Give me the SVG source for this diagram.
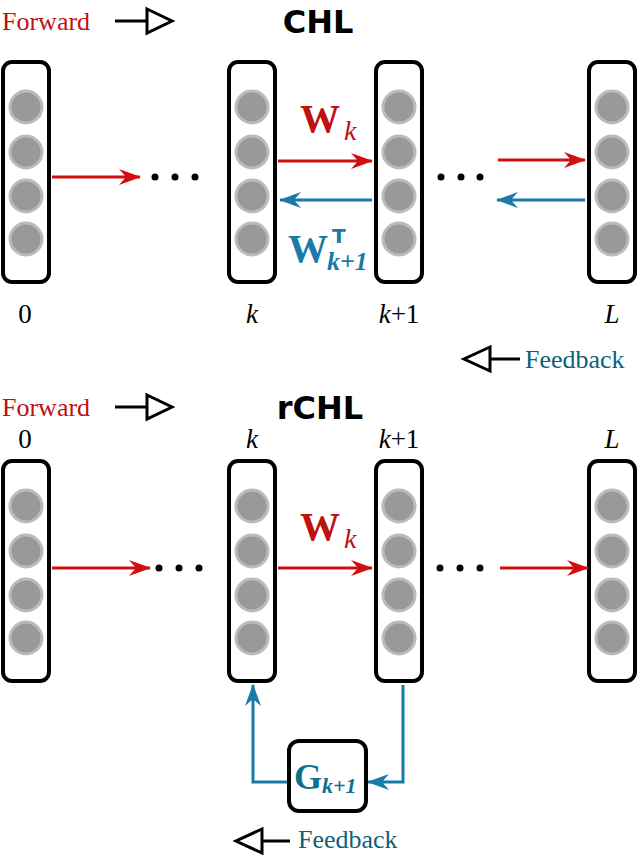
<svg xmlns="http://www.w3.org/2000/svg" width="640" height="863" viewBox="0 0 640 863">
<style>
.col{fill:#fff;stroke:#000;stroke-width:4}
.n{fill:#999;stroke:#bbb;stroke-width:3}
.r{stroke:#d01010;stroke-width:3;fill:none}
.b{stroke:#1a7aa8;stroke-width:3;fill:none}
.serif{font-family:"Liberation Serif",serif}
.sans{font-family:"DejaVu Sans",sans-serif;font-weight:bold}
.dot{fill:#000}
</style>
<defs>
<marker id="ar" markerWidth="22" markerHeight="16" refX="21" refY="8" orient="auto" markerUnits="userSpaceOnUse" viewBox="0 0 22 16"><path d="M0,0 L22,8 L0,16 L7,8Z" fill="#d01010"/></marker>
<marker id="ab" markerWidth="22" markerHeight="16" refX="21" refY="8" orient="auto" markerUnits="userSpaceOnUse" viewBox="0 0 22 16"><path d="M0,0 L22,8 L0,16 L7,8Z" fill="#1a7aa8"/></marker>
<g id="colTpl"><rect class="col" x="-23" y="0" width="46" height="220" rx="9"/><circle class="n" cx="0" cy="45" r="16"/><circle class="n" cx="0" cy="90" r="16"/><circle class="n" cx="0" cy="134" r="16"/><circle class="n" cx="0" cy="177" r="16"/></g>
</defs>
<text class="serif" x="2" y="30" font-size="26" fill="#c01010">Forward</text>
<path d="M115,21 H147 M147,9 L172,21 L147,33Z" stroke="#000" stroke-width="3" fill="none"/>
<text class="sans" x="318" y="33" font-size="32" text-anchor="middle">CHL</text>
<g id="top-col0"><use href="#colTpl" x="26" y="62"/></g>
<g id="top-colk"><use href="#colTpl" x="252" y="62"/></g>
<g id="top-colk1"><use href="#colTpl" x="399" y="62"/></g>
<g id="top-colL"><use href="#colTpl" x="612" y="62"/></g>
<g id="top-connectors">
<line class="r" x1="52" y1="177" x2="140" y2="177" marker-end="url(#ar)"/>
<line class="r" x1="278" y1="161" x2="372" y2="161" marker-end="url(#ar)"/>
<line class="b" x1="372" y1="200" x2="280" y2="200" marker-end="url(#ab)"/>
<line class="r" x1="498" y1="160" x2="585" y2="160" marker-end="url(#ar)"/>
<line class="b" x1="585" y1="200" x2="497" y2="200" marker-end="url(#ab)"/>
</g>
<g class="dot"><circle cx="155" cy="177" r="3.5"/><circle cx="175" cy="177" r="3.5"/><circle cx="195" cy="177" r="3.5"/><circle cx="441" cy="177" r="3.5"/><circle cx="461" cy="177" r="3.5"/><circle cx="480" cy="177" r="3.5"/></g>
<text class="serif" x="300" y="132" font-size="40" font-weight="bold" fill="#c01010">W<tspan font-size="28" font-style="italic" font-weight="normal" dx="4" dy="8">k</tspan></text>
<text class="serif" x="288" y="262" font-size="40" font-weight="bold" fill="#1a7aa8">W</text>
<text class="sans" x="332" y="243" font-size="20" fill="#1a7aa8">T</text>
<text class="serif" x="327" y="270" font-size="26" font-weight="bold" font-style="italic" fill="#1a7aa8">k+1</text>
<g class="serif" font-size="27" text-anchor="middle">
<text x="25" y="323">0</text><text x="252" y="323" font-style="italic">k</text><text x="399" y="323"><tspan font-style="italic">k</tspan>+1</text><text x="612" y="323" font-style="italic">L</text>
</g>
<path d="M520,359 H490 M490,347 L464,359 L490,371Z" stroke="#000" stroke-width="3" fill="none"/>
<text class="serif" x="525" y="368" font-size="26" fill="#0f5f7a">Feedback</text>

<text class="serif" x="2" y="416" font-size="26" fill="#c01010">Forward</text>
<path d="M115,407 H147 M147,395 L172,407 L147,419Z" stroke="#000" stroke-width="3" fill="none"/>
<text class="sans" x="320" y="419" font-size="32" text-anchor="middle">rCHL</text>
<g class="serif" font-size="27" text-anchor="middle">
<text x="25" y="448">0</text><text x="252" y="448" font-style="italic">k</text><text x="399" y="448"><tspan font-style="italic">k</tspan>+1</text><text x="612" y="448" font-style="italic">L</text>
</g>
<g id="bot-col0"><use href="#colTpl" x="26" y="461"/></g>
<g id="bot-colk"><use href="#colTpl" x="252" y="461"/></g>
<g id="bot-colk1"><use href="#colTpl" x="399" y="461"/></g>
<g id="bot-colL"><use href="#colTpl" x="612" y="461"/></g>
<g id="bot-connectors">
<line class="r" x1="52" y1="568" x2="150" y2="568" marker-end="url(#ar)"/>
<line class="r" x1="278" y1="568" x2="372" y2="568" marker-end="url(#ar)"/>
<line class="r" x1="500" y1="568" x2="588" y2="568" marker-end="url(#ar)"/>
<polyline class="b" points="403,685 403,782 368,782" marker-end="url(#ab)"/>
<polyline class="b" points="289,782 253,782 253,685" marker-end="url(#ab)"/>
</g>
<g class="dot"><circle cx="159" cy="568" r="3.5"/><circle cx="179" cy="568" r="3.5"/><circle cx="199" cy="568" r="3.5"/><circle cx="440" cy="568" r="3.5"/><circle cx="460" cy="568" r="3.5"/><circle cx="480" cy="568" r="3.5"/></g>
<text class="serif" x="300" y="540" font-size="40" font-weight="bold" fill="#c01010">W<tspan font-size="28" font-style="italic" font-weight="normal" dx="4" dy="8">k</tspan></text>
<g id="G">
<rect x="289" y="741" width="77" height="70" rx="10" fill="#fff" stroke="#000" stroke-width="4"/>
<text class="serif" x="294" y="789" font-size="36" font-weight="bold" fill="#0f6f90">G<tspan font-size="22" font-style="italic" dy="4">k+1</tspan></text>
</g>
<path d="M290,841 H262 M262,829 L236,841 L262,853Z" stroke="#000" stroke-width="3" fill="none"/>
<text class="serif" x="298" y="848" font-size="26" fill="#0f5f7a">Feedback</text>
</svg>
